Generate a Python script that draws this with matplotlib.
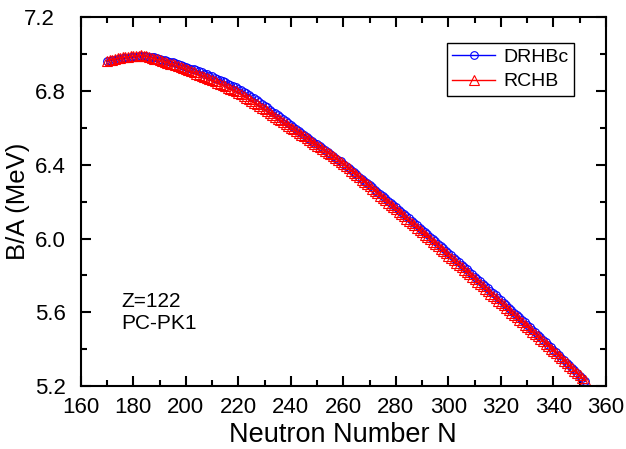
import numpy as np
import matplotlib
matplotlib.use("Agg")
import matplotlib.pyplot as plt
import matplotlib.transforms as mtransforms
from matplotlib.ticker import MultipleLocator, FormatStrFormatter

plt.rcParams['font.family'] = ['Liberation Sans', 'DejaVu Sans']

# neutron number, Z=122 chain
neutrons = list(range(170, 353))

# RCHB binding energy per nucleon (MeV)
ba_rchb = [
    6.963, 6.967, 6.970, 6.973, 6.976, 6.979, 6.981, 6.983, 6.985, 6.987,
    6.989, 6.990, 6.991, 6.992, 6.990, 6.987, 6.983, 6.979, 6.975, 6.971,
    6.967, 6.962, 6.958, 6.953, 6.948, 6.943, 6.938, 6.933, 6.928, 6.923,
    6.917, 6.911, 6.906, 6.900, 6.894, 6.888, 6.882, 6.876, 6.870, 6.864,
    6.858, 6.852, 6.845, 6.839, 6.832, 6.825, 6.818, 6.811, 6.804, 6.797,
    6.790, 6.782, 6.773, 6.764, 6.755, 6.746, 6.737, 6.728, 6.719, 6.709,
    6.700, 6.690, 6.680, 6.670, 6.660, 6.650, 6.640, 6.630, 6.620, 6.611,
    6.601, 6.591, 6.582, 6.572, 6.562, 6.553, 6.543, 6.533, 6.524, 6.514,
    6.504, 6.495, 6.485, 6.475, 6.466, 6.456, 6.446, 6.437, 6.427, 6.417,
    6.405, 6.393, 6.380, 6.368, 6.356, 6.344, 6.331, 6.319, 6.307, 6.294,
    6.282, 6.270, 6.257, 6.245, 6.233, 6.220, 6.208, 6.195, 6.183, 6.171,
    6.158, 6.146, 6.133, 6.121, 6.108, 6.096, 6.083, 6.071, 6.058, 6.046,
    6.033, 6.021, 6.008, 5.995, 5.983, 5.970, 5.958, 5.945, 5.932, 5.920,
    5.907, 5.894, 5.881, 5.869, 5.856, 5.843, 5.831, 5.818, 5.805, 5.792,
    5.779, 5.767, 5.754, 5.741, 5.728, 5.715, 5.702, 5.690, 5.677, 5.664,
    5.651, 5.638, 5.625, 5.612, 5.599, 5.586, 5.573, 5.560, 5.547, 5.534,
    5.521, 5.508, 5.495, 5.482, 5.469, 5.456, 5.443, 5.429, 5.416, 5.403,
    5.390, 5.377, 5.364, 5.350, 5.337, 5.324, 5.311, 5.298, 5.284, 5.271,
    5.258, 5.245, 5.231,
]

# DRHBc minus RCHB (MeV), same neutron numbers
diff_drhbc = [
    -0.002, -0.003, -0.004, -0.004, -0.005, -0.005, -0.005, -0.005, -0.005, -0.005,
    -0.004, -0.004, -0.003, -0.001, 0.000, 0.001, 0.003, 0.004, 0.006, 0.006,
    0.008, 0.008, 0.009, 0.010, 0.011, 0.011, 0.012, 0.013, 0.013, 0.014,
    0.015, 0.015, 0.015, 0.016, 0.017, 0.018, 0.018, 0.018, 0.019, 0.019,
    0.020, 0.020, 0.020, 0.020, 0.021, 0.021, 0.021, 0.022, 0.022, 0.022,
    0.022, 0.022, 0.022, 0.022, 0.022, 0.022, 0.022, 0.021, 0.021, 0.021,
    0.020, 0.020, 0.019, 0.018, 0.018, 0.018, 0.017, 0.016, 0.015, 0.015,
    0.014, 0.013, 0.012, 0.011, 0.011, 0.010, 0.009, 0.008, 0.007, 0.006,
    0.006, 0.005, 0.004, 0.004, 0.003, 0.002, 0.001, 0.001, 0.000, 0.001,
    0.001, 0.002, 0.002, 0.003, 0.004, 0.004, 0.005, 0.005, 0.006, 0.006,
    0.007, 0.007, 0.008, 0.008, 0.008, 0.009, 0.010, 0.010, 0.011, 0.011,
    0.011, 0.011, 0.012, 0.012, 0.012, 0.013, 0.013, 0.013, 0.013, 0.013,
    0.013, 0.013, 0.014, 0.014, 0.014, 0.014, 0.014, 0.015, 0.015, 0.015,
    0.015, 0.015, 0.015, 0.015, 0.015, 0.015, 0.015, 0.015, 0.015, 0.015,
    0.015, 0.015, 0.015, 0.015, 0.015, 0.015, 0.015, 0.015, 0.015, 0.015,
    0.015, 0.014, 0.014, 0.014, 0.013, 0.013, 0.013, 0.013, 0.013, 0.012,
    0.012, 0.011, 0.011, 0.011, 0.010, 0.010, 0.009, 0.008, 0.008, 0.008,
    0.007, 0.006, 0.006, 0.005, 0.004, 0.004, 0.003, 0.002, 0.001, 0.000,
    -0.001, -0.002, -0.004,
]

ba_drhbc = np.array(ba_rchb) + np.array(diff_drhbc)

fig = plt.figure(figsize=(6.26, 4.49), dpi=100)
ax = fig.add_axes([0.129, 0.140, 0.839, 0.822])

ax.plot(neutrons, ba_drhbc, color='blue', lw=1.0, marker='o', ms=5.5,
        mfc='none', mec='blue', mew=0.8, label='DRHBc')
ax.plot(neutrons, ba_rchb, color='red', lw=1.0, marker='^', ms=6.5,
        mfc='none', mec='red', mew=0.8, label='RCHB')

ax.set_xlim(160, 360)
ax.set_ylim(5.2, 7.2)
ax.xaxis.set_major_locator(MultipleLocator(20))
ax.xaxis.set_minor_locator(MultipleLocator(10))
ax.yaxis.set_major_locator(MultipleLocator(0.4))
ax.yaxis.set_minor_locator(MultipleLocator(0.2))
ax.yaxis.set_major_formatter(FormatStrFormatter('%.1f'))

ax.tick_params(which='both', direction='in', top=True, right=True,
               width=1.5, labelsize=16)
ax.tick_params(which='major', length=7)
ax.tick_params(which='minor', length=4)
ax.tick_params(axis='x', pad=8)
ax.tick_params(axis='y', pad=11)
for s in ax.spines.values():
    s.set_linewidth(1.5)

# top y label sits a bit further left, as in the original
fig.canvas.draw()
for lab in ax.get_yticklabels():
    if lab.get_text() == '7.2':
        lab.set_transform(lab.get_transform() +
                          mtransforms.ScaledTranslation(-0.11, 0, fig.dpi_scale_trans))

ax.set_xlabel('Neutron Number N', fontsize=19.5, labelpad=3)
ax.set_ylabel('B/A (MeV)', fontsize=18.5)
ax.yaxis.set_label_coords(-0.096, 0.5)

ax.text(0.078, 0.214, 'Z=122', transform=ax.transAxes, fontsize=15)
ax.text(0.078, 0.155, 'PC-PK1', transform=ax.transAxes, fontsize=15)

leg = ax.legend(loc='upper right', bbox_to_anchor=(0.939, 0.931),
                fontsize=14, numpoints=1, handlelength=2.2,
                borderaxespad=0, fancybox=False, framealpha=1,
                edgecolor='black', borderpad=0.3, labelspacing=0.35,
                handletextpad=0.4)
leg.get_frame().set_linewidth(1.0)

fig.savefig('out.png', dpi=100)
